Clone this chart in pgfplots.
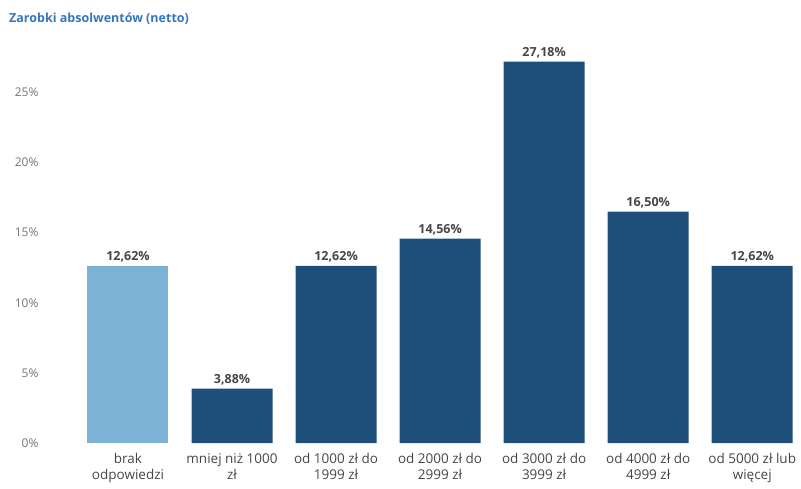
\documentclass[border=0pt]{standalone}
\usepackage{fontspec}
\setmainfont{Open Sans}
\usepackage{pgfplots}
\pgfplotsset{compat=1.18}

\definecolor{barlight}{RGB}{125,178,215}
\definecolor{bardark}{RGB}{30,78,122}
\definecolor{titleblue}{RGB}{52,118,190}
\definecolor{labelgray}{RGB}{70,70,70}

\begin{document}
\begin{tikzpicture}[x=1pt,y=1pt]
\useasboundingbox (0,0) rectangle (801,488);
\begin{scope}
\clip (0,0) rectangle (801,488);
\node[anchor=west, font=\fontsize{12.5}{14}\selectfont\bfseries, text=titleblue, inner sep=0pt] at (9,469) {Zarobki absolwentów (netto)};
\begin{axis}[
    at={(73,32)}, anchor=south west,
    scale only axis,
    width=721pt, height=400pt,
    xmin=-0.5, xmax=6.43,
    ymin=0, ymax=28.5,
    axis line style={draw=none},
    tick style={draw=none},
    ytick={0,5,10,15,20,25},
    yticklabel={\pgfmathprintnumber{\tick}\%},
    yticklabel style={font=\fontsize{12}{13}\selectfont, text=labelgray!75, anchor=east, xshift=-34pt},
    /pgf/number format/assume math mode=true,
    xtick={0,1,2,3,4,5,6},
    xticklabels={{brak\\odpowiedzi},{mniej niż 1000\\zł},{od 1000 zł do\\1999 zł},{od 2000 zł do\\2999 zł},{od 3000 zł do\\3999 zł},{od 4000 zł do\\4999 zł},{od 5000 zł lub\\więcej}},
    xticklabel style={font=\fontsize{13.5}{16}\selectfont, text=labelgray, align=center, anchor=north, yshift=-7pt},
    bar width=81pt,
    nodes near coords={\pgfmathprintnumber[fixed,fixed zerofill,precision=2,use comma]{\pgfplotspointmeta}\%},
    every node near coord/.append style={font=\fontsize{12.5}{13}\selectfont\bfseries, text=labelgray, yshift=0pt},
]
\addplot[ybar, fill=barlight, draw=none] coordinates {(0,12.62)};
\addplot[ybar, fill=bardark, draw=none] coordinates {
    (1,3.88) (2,12.62) (3,14.56) (4,27.18) (5,16.50) (6,12.62)
};
\end{axis}
\end{scope}
\end{tikzpicture}
\end{document}
